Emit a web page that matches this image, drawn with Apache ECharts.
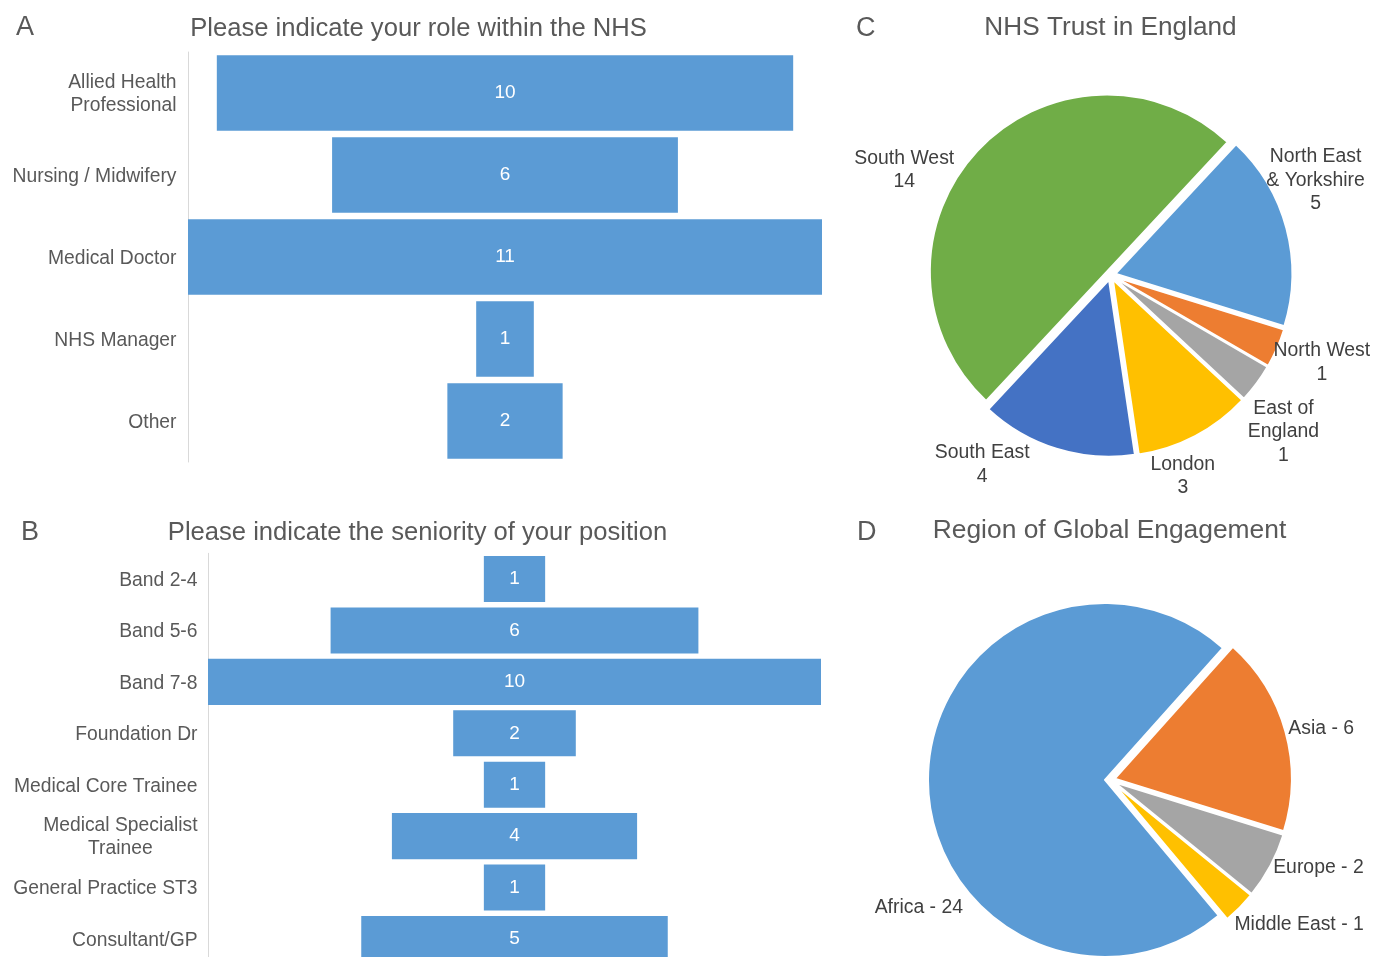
<!DOCTYPE html>
<html>
<head>
<meta charset="utf-8">
<script src="https://cdn.jsdelivr.net/npm/echarts@6/dist/echarts.min.js"></script>
<style>
html,body{margin:0;padding:0;background:#ffffff;}
#chart{width:1382px;height:957px;}
</style>
</head>
<body>
<div id="chart"></div>
<script>
// ---------- data ----------
const roleCategories = ['Allied Health\nProfessional', 'Nursing / Midwifery', 'Medical Doctor', 'NHS Manager', 'Other'];
const roleCounts = [10, 6, 11, 1, 2];

const seniorityCategories = ['Band 2-4', 'Band 5-6', 'Band 7-8', 'Foundation Dr', 'Medical Core Trainee', 'Medical Specialist\nTrainee', 'General Practice ST3', 'Consultant/GP'];
const seniorityCounts = [1, 6, 10, 2, 1, 4, 1, 5];

const trustRegions = ['North East\n& Yorkshire', 'North West', 'East of\nEngland', 'London', 'South East', 'South West'];
const trustCounts = [5, 1, 1, 3, 4, 14];

const globalRegions = ['Africa', 'Asia', 'Europe', 'Middle East'];
const globalCounts = [24, 6, 2, 1];

// ---------- styles ----------
const FONT = "'Liberation Sans', Arial, Helvetica, sans-serif";
const TEXT = '#595959';
const LABEL = '#404040';
const BAR = '#5B9BD5';
const trustColors = ['#5B9BD5', '#ED7D31', '#A5A5A5', '#FFC000', '#4472C4', '#70AD47'];
const globalColors = ['#5B9BD5', '#ED7D31', '#A5A5A5', '#FFC000'];
// small label nudges (px) relative to the library's outside label position
const trustLabelNudge = [[14.5, -45.2], [30.6, 10.4], [13.7, 42.4], [-22, 31], [-66.2, 6.5], [-60.8, 26.2]];
const globalLabelNudge = [[42, 131], [-4, -2], [-4, 1], [-11.7, 15.3]];

const maxRole = Math.max.apply(null, roleCounts);
const maxSeniority = Math.max.apply(null, seniorityCounts);

function titleText(text, left, top, size, center) {
  const t = {
    text: text, left: left, top: top, padding: 0,
    textStyle: { fontSize: size, fontWeight: 'normal', color: TEXT, fontFamily: FONT }
  };
  if (center) t.textAlign = 'center';
  return t;
}

function catAxis(grid, data, centerWrapped, margin) {
  return {
    type: 'category', gridIndex: grid, data: data, inverse: true,
    axisLine: { show: true, lineStyle: { color: '#D9D9D9', width: 1 } },
    axisTick: { show: false },
    splitLine: { show: false },
    axisLabel: {
      margin: margin, fontSize: 19.3, lineHeight: 23, color: TEXT, fontFamily: FONT,
      padding: [3, 0, 0, 0],
      formatter: function (v) {
        if (centerWrapped && v.indexOf('\n') >= 0) {
          return v.split('\n').map(function (s) { return '{c|' + s + '}'; }).join('\n');
        }
        return v;
      },
      rich: { c: { align: 'center', fontSize: 19.3, lineHeight: 23, color: TEXT, fontFamily: FONT } }
    }
  };
}

function centeredBars(axisIdx, values, maxV, gap) {
  return [
    {
      type: 'bar', xAxisIndex: axisIdx, yAxisIndex: axisIdx, stack: 's' + axisIdx,
      data: values.map(function (v) { return (maxV - v) / 2; }),
      barCategoryGap: gap, silent: true,
      itemStyle: { color: 'rgba(0,0,0,0)' },
      label: { show: false }, emphasis: { disabled: true }
    },
    {
      type: 'bar', xAxisIndex: axisIdx, yAxisIndex: axisIdx, stack: 's' + axisIdx,
      data: values, barCategoryGap: gap, silent: true,
      itemStyle: { color: BAR },
      label: { show: true, position: 'inside', color: '#ffffff', fontSize: 19, fontFamily: FONT, padding: [3, 0, 0, 0] },
      emphasis: { disabled: true }
    }
  ];
}

function pieSeries(center, startAngle, names, values, colors, fmt, lineLen, nudge, centerAlign) {
  return {
    type: 'pie', center: center, radius: 177, startAngle: startAngle, clockwise: true,
    selectedMode: 'multiple', selectedOffset: 5, avoidLabelOverlap: false,
    silent: true, emphasis: { disabled: true },
    itemStyle: { borderColor: '#ffffff', borderWidth: 2 },
    label: { show: true, position: 'outside', formatter: fmt, fontSize: 19.4, lineHeight: 23.5, color: LABEL, fontFamily: FONT },
    labelLine: { show: false, length: lineLen, length2: 0 },
    labelLayout: function (p) {
      const n = nudge[p.dataIndex];
      const o = { dx: n[0], dy: n[1] };
      if (centerAlign) o.align = 'center';
      return o;
    },
    data: names.map(function (n, i) {
      return { name: n, value: values[i], selected: true, itemStyle: { color: colors[i] } };
    })
  };
}

const chart = echarts.init(document.getElementById('chart'), null, { renderer: 'canvas' });
chart.setOption({
  animation: false,
  backgroundColor: '#ffffff',
  title: [
    titleText('A', 16, 14, 27, false),
    titleText('Please indicate your role within the NHS', 418.5, 15.5, 25.6, true),
    titleText('B', 21, 519.5, 27, false),
    titleText('Please indicate the seniority of your position', 417.5, 519.5, 25.6, true),
    titleText('C', 856, 15, 27, false),
    titleText('NHS Trust in England', 1110.5, 15, 26.2, true),
    titleText('D', 857, 519, 27, false),
    titleText('Region of Global Engagement', 1109.5, 518, 26.4, true)
  ],
  grid: [
    { left: 188, top: 52, width: 634, height: 410, outerBoundsMode: 'none' },
    { left: 208, top: 553.3, width: 613, height: 411.4, outerBoundsMode: 'none' }
  ],
  xAxis: [
    { type: 'value', gridIndex: 0, min: 0, max: maxRole, show: false },
    { type: 'value', gridIndex: 1, min: 0, max: maxSeniority, show: false }
  ],
  yAxis: [
    catAxis(0, roleCategories, false, 11.5),
    catAxis(1, seniorityCategories, true, 10.5)
  ],
  series: [].concat(
    centeredBars(0, roleCounts, maxRole, '8%'),
    centeredBars(1, seniorityCounts, maxSeniority, '10.5%'),
    [
      pieSeries([1110.5, 275], 47, trustRegions, trustCounts, trustColors, '{b}\n{c}', 10, trustLabelNudge, true),
      pieSeries([1110, 780], 310, globalRegions, globalCounts, globalColors, '{b} - {c}', 2, globalLabelNudge, false)
    ]
  )
});
</script>
</body>
</html>
